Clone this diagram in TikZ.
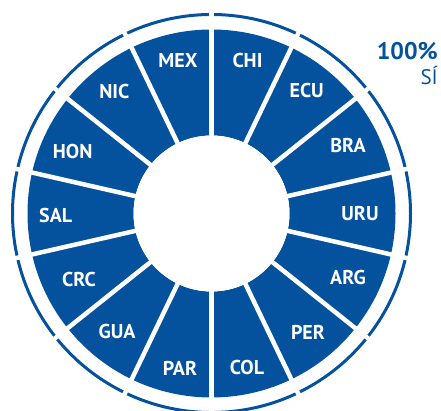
\documentclass[tikz,border=0pt]{standalone}
\usepackage{fontspec}
\setmainfont{PT Sans}
\definecolor{cblue}{RGB}{4,82,158}
\begin{document}
\begin{tikzpicture}[x=1pt,y=1pt,
  lbl/.style={text=white,font=\bfseries\fontsize{20}{20}\selectfont,inner sep=0pt},
  divider/.style={white,line width=4.5pt},
  ring/.style={cblue,line width=3pt}]
\useasboundingbox (0,0) rectangle (441,411);
\coordinate (O) at (211.5,197.5);
\fill[cblue,even odd rule] (O) circle[radius=184] (O) circle[radius=78];
\draw[ring] (O) circle[radius=199];
\foreach \k in {0,...,13}
  \draw[divider] (O) -- ++({90-\k*360/14}:206);
\fill[white] (O) circle[radius=78];
\node[lbl] (mex) at (178,350) {MEX};
\node[lbl] (chi) at (247.5,350) {CHI};
\node[lbl] (ecu) at (306.7,320.3) {ECU};
\node[lbl] (bra) at (348,265) {BRA};
\node[lbl] (uru) at (360,197) {URU};
\node[lbl] (arg) at (348,133) {ARG};
\node[lbl] (per) at (308,79) {PER};
\node[lbl] (col) at (247,43) {COL};
\node[lbl] (par) at (180,43) {PAR};
\node[lbl] (gua) at (117,79) {GUA};
\node[lbl] (crc) at (79,131) {CRC};
\node[lbl] (sal) at (55.7,195) {SAL};
\node[lbl] (hon) at (72.7,259.3) {HON};
\node[lbl] (nic) at (114.3,319.3) {NIC};
\node[anchor=base east,inner sep=0pt,text=cblue,font=\bfseries\fontsize{24}{24}\selectfont] (pct) at (438,351) {100\%};
\node[anchor=base east,inner sep=0pt,text=cblue,font=\fontsize{21}{21}\selectfont] (si) at (438,326) {SÍ};
\end{tikzpicture}
\end{document}
